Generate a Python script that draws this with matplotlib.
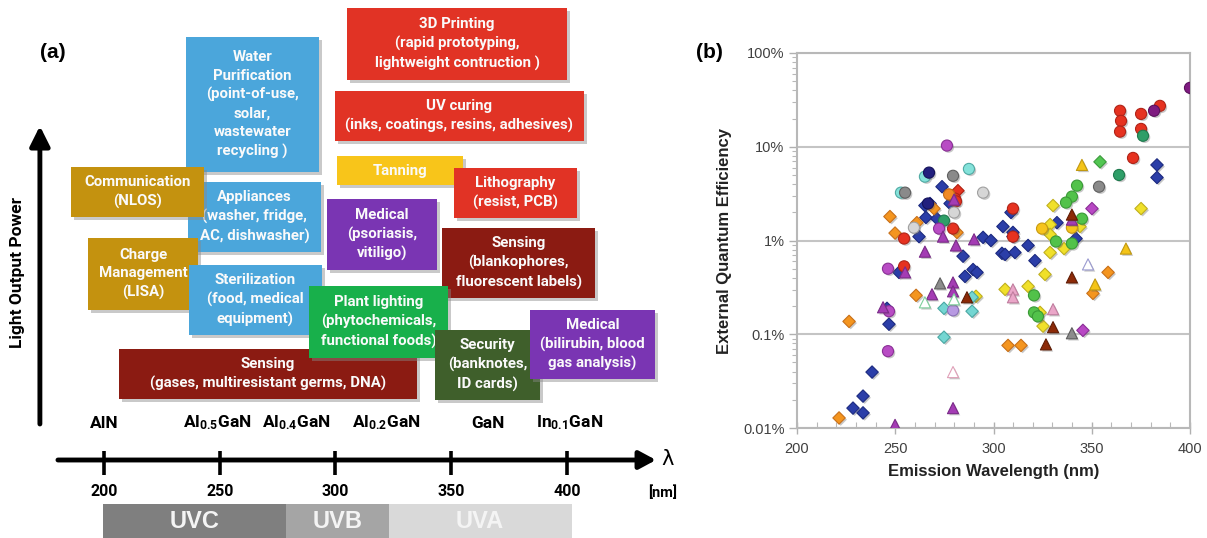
import numpy as np
import matplotlib
matplotlib.use('Agg')
import matplotlib.pyplot as plt
from matplotlib.patches import Rectangle
import matplotlib.patheffects as pe
from matplotlib.ticker import FuncFormatter, LogLocator, NullFormatter, MultipleLocator

plt.rcParams['font.family'] = ['Liberation Sans', 'DejaVu Sans']
plt.rcParams['mathtext.fontset'] = 'custom'
plt.rcParams['mathtext.rm'] = 'Roboto:bold'
plt.rcParams['mathtext.bf'] = 'Roboto:bold'
plt.rcParams['mathtext.it'] = 'Roboto:bold'
plt.rcParams['mathtext.default'] = 'rm'

NARROW = ['Roboto', 'Liberation Sans', 'DejaVu Sans']

# ---------------- Panel (a) data ----------------
app_labels = [
    "3D Printing\n(rapid prototyping,\nlightweight contruction )",
    "UV curing\n(inks, coatings, resins, adhesives)",
    "Tanning",
    "Lithography\n(resist, PCB)",
    "Water\nPurification\n(point-of-use,\nsolar,\nwastewater\nrecycling )",
    "Appliances\n(washer, fridge,\nAC, dishwasher)",
    "Communication\n(NLOS)",
    "Charge\nManagement\n(LISA)",
    "Sterilization\n(food, medical\nequipment)",
    "Medical\n(psoriasis,\nvitiligo)",
    "Sensing\n(blankophores,\nfluorescent labels)",
    "Sensing\n(gases, multiresistant germs, DNA)",
    "Plant lighting\n(phytochemicals,\nfunctional foods)",
    "Security\n(banknotes,\nID cards)",
    "Medical\n(bilirubin, blood\ngas analysis)",
]
app_nm_lo = [305.0, 299.8, 300.7, 351.3, 235.4, 236.3, 185.7, 193.1, 236.7, 296.4, 346.1, 206.5, 288.6, 343.0, 384.1]
app_nm_hi = [400.1, 407.4, 355.1, 404.4, 292.9, 293.8, 243.2, 240.6, 294.2, 343.9, 412.2, 335.3, 348.7, 388.4, 438.1]
app_power_top = [8, 91, 156, 168, 37, 182, 167, 238, 265, 199, 228, 349, 286, 330, 310]
app_power_bot = [80, 141, 185, 218, 172, 252, 217, 310, 335, 270, 298, 399, 358, 400, 379]
RED, DRED, BLUE, GOLD = '#e13325', '#8b1b12', '#4ba6db', '#c4920f'
PURP, GREEN, DGREEN, YEL = '#7a35b3', '#18b04b', '#3f5f2b', '#f8c51a'
app_colors = [RED, RED, YEL, RED, BLUE, BLUE, GOLD, GOLD, BLUE, PURP, DRED, DRED, GREEN, DGREEN, PURP]

axis_ticks_nm = [200, 250, 300, 350, 400]
material_labels = ['AlN', r'Al$_{0.5}$GaN', r'Al$_{0.4}$GaN', r'Al$_{0.2}$GaN', 'GaN', r'In$_{0.1}$GaN']
material_nm = [200, 249, 283, 322, 366, 401]
band_labels = ['UVC', 'UVB', 'UVA']
band_lo = [199.5, 278.7, 323.0]
band_hi = [278.7, 323.0, 402.0]
band_colors = ['#7f7f7f', '#a5a5a5', '#d9d9d9']
band_text_colors = ['#f4f4f4', '#f4f4f4', '#f4f4f4']

# ---------------- Panel (b) data (wavelength nm, EQE %) ----------------
blue_dia_nm = [251.9, 245.8, 246.8, 238.2, 233.6, 228.5, 233.6, 262.1, 265.6, 265.1, 267.7, 273.8, 271.2,
               277.9, 284.5, 294.7, 298.7, 308.9, 304.8, 309.9, 317.6, 304.3, 305.9, 310.9, 321.1, 289.6,
               291.6, 285.5, 332.3, 342.0, 383.2, 383.2, 309.9]
blue_dia_eqe = [0.457, 0.189, 0.128, 0.0395, 0.0219, 0.0163, 0.0145, 1.10, 1.76, 2.36, 2.48, 3.75, 1.71,
                2.48, 0.68, 1.08, 1.0, 1.99, 1.41, 1.22, 0.885, 0.73, 0.71, 0.745, 0.61, 0.49,
                0.457, 0.414, 1.55, 1.05, 6.4, 4.7, 1.10]
orange_dia_nm = [221.4, 226.5, 260.6, 247.3, 249.9, 261.0, 269.7, 281.4, 307.4, 314.0, 350.6, 358.3]
orange_dia_eqe = [0.0128, 0.137, 0.26, 1.80, 1.20, 1.55, 2.19, 1.22, 0.076, 0.076, 0.273, 0.457]
yellow_dia_nm = [330.3, 375.1, 328.8, 344.0, 328.8, 335.9, 328.8, 326.2, 305.9, 317.6, 323.7, 325.2, 291.1]
yellow_dia_eqe = [2.36, 2.19, 1.48, 1.41, 1.16, 0.82, 0.745, 0.435, 0.301, 0.324, 0.171, 0.122, 0.254]
cyan_dia_nm = [274.8, 274.8, 289.1, 289.1]
cyan_dia_eqe = [0.189, 0.093, 0.248, 0.176]
magenta_dia_nm = [350.1, 345.5]
magenta_dia_eqe = [2.19, 0.11]
green_dia_nm = [354.2]
green_dia_eqe = [6.9]
red_dia_nm = [281.9]
red_dia_eqe = [3.4]

red_circ_nm = [254.5, 254.5, 280.4, 280.9, 279.4, 309.9, 309.9, 364.4, 364.9, 364.4, 375.1, 375.1, 384.7, 371.0]
red_circ_eqe = [1.05, 0.53, 2.8, 2.62, 1.34, 2.19, 1.10, 24.2, 18.9, 14.5, 22.4, 15.5, 27.3, 7.6]
green_circ_nm = [342.5, 339.9, 336.9, 345.0, 331.8, 339.9, 320.6, 320.6, 322.6]
green_circ_eqe = [3.85, 2.94, 2.54, 1.71, 0.976, 0.93, 0.26, 0.171, 0.155]
teal_circ_nm = [363.9, 376.1, 274.8]
teal_circ_eqe = [5.0, 13.1, 1.63]
yellow_circ_nm = [324.7, 339.9]
yellow_circ_eqe = [1.34, 1.37]
orange_circ_nm = [277.4]
orange_circ_eqe = [3.1]
dpurple_circ_nm = [400.0, 381.7]
dpurple_circ_eqe = [42.5, 24.2]
magenta_circ_nm = [276.3, 246.3, 246.8, 246.3, 272.3]
magenta_circ_eqe = [10.3, 0.50, 0.176, 0.066, 1.34]
lavender_circ_nm = [279.4]
lavender_circ_eqe = [0.18]
cyan_circ_nm = [252.9, 265.1, 287.5]
cyan_circ_eqe = [3.24, 4.8, 5.8]
gray_circ_nm = [255.0, 279.4, 353.7]
gray_circ_eqe = [3.24, 4.9, 3.75]
lgray_circ_nm = [259.5, 294.7, 279.9]
lgray_circ_eqe = [1.37, 3.24, 1.99]
navy_circ_nm = [267.2, 266.7]
navy_circ_eqe = [5.3, 2.48]

purple_tri_nm = [265.1, 255.0, 243.8, 268.7, 274.3, 290.1, 280.9, 279.9, 249.9, 279.4, 279.4, 279.4, 339.9]
purple_tri_eqe = [0.76, 0.457, 0.194, 0.267, 1.10, 1.03, 0.885, 2.73, 0.0108, 0.357, 0.287, 0.0163, 1.67]
gray_tri_nm = [272.8, 339.9]
gray_tri_eqe = [0.349, 0.1025]
dred_tri_nm = [286.5, 339.9, 339.9, 330.3, 326.7]
dred_tri_eqe = [0.248, 1.89, 0.404, 0.119, 0.078]
yellow_tri_nm = [345.0, 367.4, 351.7]
yellow_tri_eqe = [6.4, 0.82, 0.34]
pink_tri_nm = [309.9, 309.9, 330.3]
pink_tri_eqe = [0.301, 0.248, 0.185]
open_green_tri_nm = [265.1, 279.9]
open_green_tri_eqe = [0.219, 0.236]
open_blue_tri_nm = [348.1]
open_blue_tri_eqe = [0.556]
open_pink_tri_nm = [279.4]
open_pink_tri_eqe = [0.0395]

# ---------------- Figure ----------------
fig = plt.figure(figsize=(12.07, 5.38), dpi=100)

# ---- Panel (a) ----
axa = fig.add_axes([0, 0, 690 / 1207, 1])
axa.set_xlim(155.06, 453.2)
axa.set_ylim(538, 0)
axa.axis('off')

shadow = [pe.SimplePatchShadow(offset=(2, -2), shadow_rgbFace='#888888', alpha=0.45), pe.Normal()]
for i, (lab, lo, hi, top, bot, col) in enumerate(zip(app_labels, app_nm_lo, app_nm_hi,
                                                    app_power_top, app_power_bot, app_colors)):
    r = Rectangle((lo, top), hi - lo, bot - top, facecolor=col, edgecolor='none', zorder=2 + i * 0.1)
    r.set_path_effects(shadow)
    axa.add_patch(r)
    axa.text((lo + hi) / 2, (top + bot) / 2, lab, ha='center', va='center', multialignment='center',
             color='#fafafa', fontsize=10.8, fontweight='bold', family=NARROW, linespacing=1.4,
             zorder=2.05 + i * 0.1)

# vertical arrow (light output power)
axa.annotate('', xy=(172.3, 126), xytext=(172.3, 424),
             arrowprops=dict(arrowstyle='-|>,head_length=0.6,head_width=0.3', lw=3.5, color='black',
                             shrinkA=0, shrinkB=0, mutation_scale=20))
axa.text(162.5, 272, 'Light Output Power', rotation=90, ha='center', va='center', fontsize=12.5,
         fontweight='bold', family=NARROW)
# horizontal wavelength axis
axa.annotate('', xy=(438.5, 460), xytext=(180.1, 460),
             arrowprops=dict(arrowstyle='-|>,head_length=0.5,head_width=0.27', lw=3.5, color='black',
                             shrinkA=0, shrinkB=0, mutation_scale=20))
axa.vlines(axis_ticks_nm, 451, 475, color='black', lw=2.6)
for t in axis_ticks_nm:
    axa.text(t, 492, str(t), ha='center', va='center', fontsize=11.5, fontweight='bold', family=NARROW)
axa.text(443.7, 459, r'λ', ha='center', va='center', fontsize=15, family=['DejaVu Sans'])
axa.text(441.5, 493, '[nm]', ha='center', va='center', fontsize=10.5, fontweight='bold', family=NARROW)
for lab, x in zip(material_labels, material_nm):
    axa.text(x, 423, lab, ha='center', va='center', fontsize=12.5, fontweight='bold', family=NARROW)
for lab, lo, hi, col, tc in zip(band_labels, band_lo, band_hi, band_colors, band_text_colors):
    axa.add_patch(Rectangle((lo, 504), hi - lo, 40, facecolor=col, edgecolor='none', zorder=1))
    axa.text((lo + hi) / 2, 522, lab, ha='center', va='center', fontsize=17, fontweight='bold',
             color=tc, zorder=3)
fig.text(53 / 1207, 1 - 52 / 538, '(a)', ha='center', va='center', fontsize=15, fontweight='bold')

# ---- Panel (b) ----
axb = fig.add_axes([797 / 1207, 110 / 538, 393 / 1207, 375 / 538])
axb.set_yscale('log')
axb.set_xlim(200, 400)
axb.set_ylim(0.01, 100)

sh = [pe.SimplePatchShadow(offset=(1.2, -1.2), shadow_rgbFace='#606060', alpha=0.35), pe.Normal()]

def sc(x, y, marker, face, edge, size):
    p = axb.scatter(x, y, marker=marker, s=size, facecolor=face, edgecolor=edge, linewidths=0.8, zorder=3)
    p.set_path_effects(sh)

DS, CS, TS = 40, 64, 64
sc(blue_dia_nm, blue_dia_eqe, 'D', '#2b3ea8', '#1c2a80', DS)
sc(orange_dia_nm, orange_dia_eqe, 'D', '#f4951f', '#c8701a', DS)
sc(yellow_dia_nm, yellow_dia_eqe, 'D', '#f0e02a', '#c0b020', DS)
sc(cyan_dia_nm, cyan_dia_eqe, 'D', '#74d6d2', '#4aa8a4', DS)
sc(magenta_dia_nm, magenta_dia_eqe, 'D', '#b848c4', '#8a3096', DS)
sc(green_dia_nm, green_dia_eqe, 'D', '#52c652', '#3a9a3a', DS)
sc(red_dia_nm, red_dia_eqe, 'D', '#e63220', '#b02010', DS)
sc(red_circ_nm, red_circ_eqe, 'o', '#e63220', '#b02418', CS)
sc(green_circ_nm, green_circ_eqe, 'o', '#52c24a', '#3a9a36', CS)
sc(teal_circ_nm, teal_circ_eqe, 'o', '#2e9e68', '#1f7a4e', CS)
sc(yellow_circ_nm, yellow_circ_eqe, 'o', '#f6c41c', '#c89a10', CS)
sc(orange_circ_nm, orange_circ_eqe, 'o', '#f08a24', '#c06a18', CS)
sc(dpurple_circ_nm, dpurple_circ_eqe, 'o', '#7e1a80', '#5a105c', CS)
sc(magenta_circ_nm, magenta_circ_eqe, 'o', '#b84cc4', '#8a3096', CS)
sc(lavender_circ_nm, lavender_circ_eqe, 'o', '#b89ae2', '#8a70b8', CS)
sc(cyan_circ_nm, cyan_circ_eqe, 'o', '#84e2da', '#50aaa4', CS)
sc(gray_circ_nm, gray_circ_eqe, 'o', '#8a8a8a', '#606060', CS)
sc(lgray_circ_nm, lgray_circ_eqe, 'o', '#d6d6d6', '#a0a0a0', CS)
sc(navy_circ_nm, navy_circ_eqe, 'o', '#22207e', '#14125a', CS)
sc(purple_tri_nm, purple_tri_eqe, '^', '#a43cb4', '#7a2a88', TS)
sc(gray_tri_nm, gray_tri_eqe, '^', '#8c8c8c', '#5e5e5e', TS)
sc(dred_tri_nm, dred_tri_eqe, '^', '#8c2a08', '#601c04', TS)
sc(yellow_tri_nm, yellow_tri_eqe, '^', '#f4c418', '#c09810', TS)
sc(pink_tri_nm, pink_tri_eqe, '^', '#eaa6c8', '#c07c9e', TS)
sc(open_green_tri_nm, open_green_tri_eqe, '^', 'white', '#7ccf9a', TS)
sc(open_blue_tri_nm, open_blue_tri_eqe, '^', 'white', '#9a9ad0', TS)
sc(open_pink_tri_nm, open_pink_tri_eqe, '^', 'white', '#e0a0b8', TS)

axb.yaxis.set_major_locator(LogLocator(base=10, numticks=10))
axb.yaxis.set_minor_locator(LogLocator(base=10, subs=np.arange(2, 10), numticks=20))
axb.yaxis.set_minor_formatter(NullFormatter())
axb.yaxis.set_major_formatter(FuncFormatter(lambda v, p: f'{v:g}%'))
axb.xaxis.set_major_locator(MultipleLocator(50))
axb.xaxis.set_minor_locator(MultipleLocator(10))
axb.grid(True, axis='y', which='major', color='#c4c4c4', lw=1.5)
axb.set_axisbelow(True)
for s in axb.spines.values():
    s.set_color('#b8b8b8')
    s.set_linewidth(1.5)
axb.tick_params(axis='y', which='major', direction='out', length=6, width=1, color='#b0b0b0',
                labelsize=10.5, labelcolor='#404040', pad=3)
axb.tick_params(axis='y', which='minor', direction='out', length=3.5, width=0.8, color='#b8b8b8')
axb.tick_params(axis='x', which='major', direction='inout', length=8, width=1, color='#b0b0b0',
                labelsize=10.5, labelcolor='#404040', pad=6)
axb.tick_params(axis='x', which='minor', direction='in', length=4, width=0.8, color='#b8b8b8')
axb.set_xlabel('Emission Wavelength (nm)', fontsize=12, fontweight='bold', color='#222222', labelpad=6)
axb.set_ylabel('External Quantum Efficiency', fontsize=12, fontweight='bold', color='#222222', labelpad=8)
fig.text(709 / 1207, 1 - 52 / 538, '(b)', ha='center', va='center', fontsize=15, fontweight='bold')

fig.savefig('out.png', dpi=100)
